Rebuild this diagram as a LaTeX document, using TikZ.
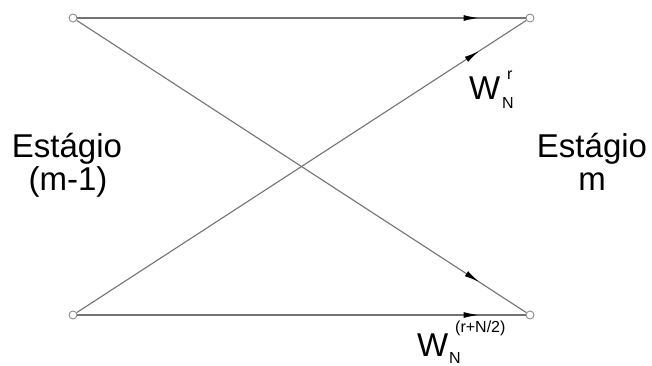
\documentclass[tikz,border=0pt]{standalone}
\usepackage{fontspec}
\setmainfont{Liberation Sans}
\usetikzlibrary{arrows.meta,decorations.markings}
\tikzset{
  port/.style={circle,draw=gray!90,fill=white,inner sep=0pt,minimum size=8pt,line width=0.9pt},
  flow/.style={draw=gray!90!black,line width=1.1pt,postaction={decorate},
    decoration={markings,mark=at position 0.895 with {\arrow[black]{Latex[length=15pt,width=6pt]}}}},
  stg/.style={inner sep=0pt,anchor=base,font=\fontsize{33}{35}\selectfont},
  wbig/.style={inner sep=0pt,anchor=base west,font=\fontsize{33}{35}\selectfont},
  wsmall/.style={inner sep=0pt,anchor=base west,font=\fontsize{16}{17}\selectfont},
}
\begin{document}
\begin{tikzpicture}[x=1pt,y=-1pt]
\useasboundingbox[fill=white] (0,0) rectangle (652,365);
\node[port] (a) at (73,18) {};
\node[port] (b) at (73,315) {};
\node[port] (c) at (530,18) {};
\node[port] (d) at (530,315) {};
\path[flow] (a) -- (c);
\path[flow] (b) -- (c);
\path[flow] (a) -- (d);
\path[flow] (b) -- (d);
\node[stg] (l1) at (67,157) {Estágio};
\node[stg] (l2) at (68,190) {(m-1)};
\node[stg] (r1) at (592,157) {Estágio};
\node[stg] (r2) at (592,190) {m};
\node[wbig] (w1) at (469,99) {W};
\node[wsmall] (w1u) at (507,79) {r};
\node[wsmall] (w1d) at (502,108) {N};
\node[wbig] (w2) at (417,356) {W};
\node[wsmall] (w2u) at (455,332) {(r+N/2)};
\node[wsmall] (w2d) at (449,363) {N};
\end{tikzpicture}
\end{document}
